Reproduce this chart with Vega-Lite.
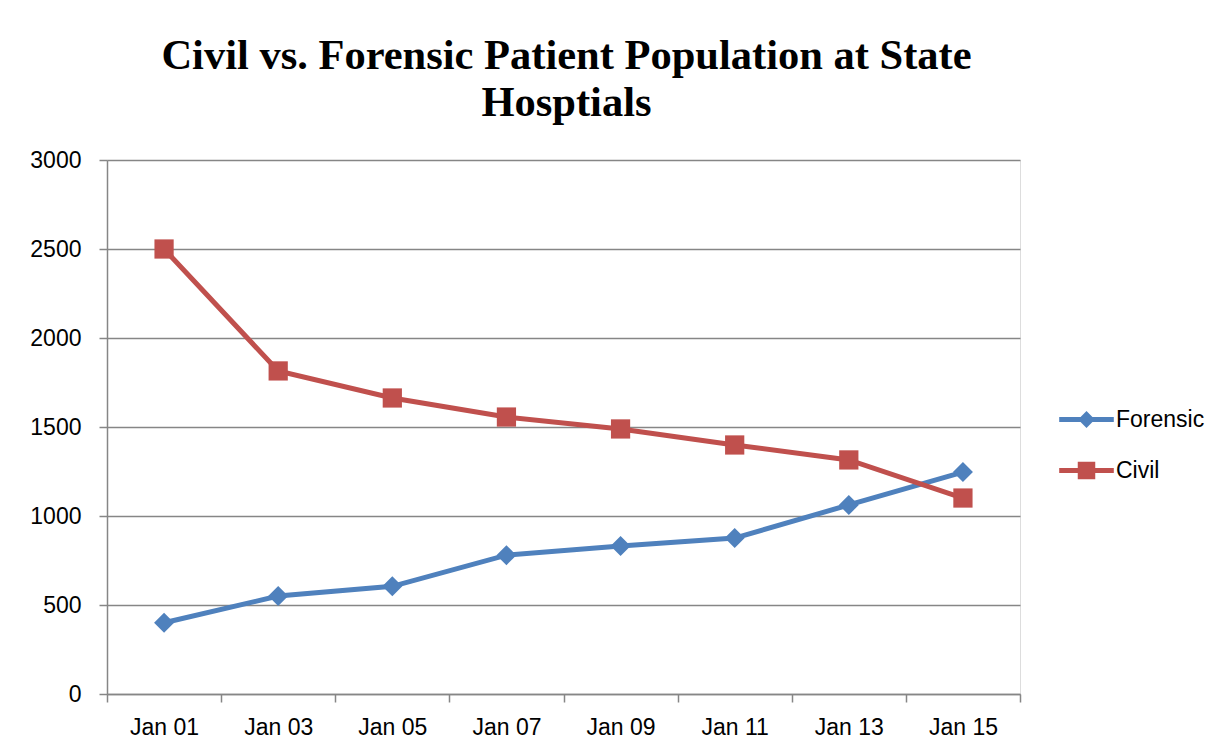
{
  "$schema": "https://vega.github.io/schema/vega-lite/v6.json",
  "autosize": "none",
  "width": 913,
  "height": 534,
  "padding": {"left": 107, "top": 160, "right": 202, "bottom": 61},
  "background": "white",
  "title": {
    "text": ["Civil vs. Forensic Patient Population at State", "Hosptials"],
    "font": "Liberation Serif",
    "fontSize": 42.5,
    "fontWeight": "bold",
    "color": "black",
    "lineHeight": 47,
    "anchor": "middle",
    "frame": "group",
    "offset": 25,
    "dx": 3
  },
  "data": {
    "values": [
      {"date": "Jan 01", "series": "Forensic", "value": 400},
      {"date": "Jan 03", "series": "Forensic", "value": 550},
      {"date": "Jan 05", "series": "Forensic", "value": 605},
      {"date": "Jan 07", "series": "Forensic", "value": 780},
      {"date": "Jan 09", "series": "Forensic", "value": 831},
      {"date": "Jan 11", "series": "Forensic", "value": 876},
      {"date": "Jan 13", "series": "Forensic", "value": 1062},
      {"date": "Jan 15", "series": "Forensic", "value": 1247},
      {"date": "Jan 01", "series": "Civil", "value": 2500},
      {"date": "Jan 03", "series": "Civil", "value": 1815},
      {"date": "Jan 05", "series": "Civil", "value": 1663},
      {"date": "Jan 07", "series": "Civil", "value": 1556},
      {"date": "Jan 09", "series": "Civil", "value": 1489},
      {"date": "Jan 11", "series": "Civil", "value": 1399},
      {"date": "Jan 13", "series": "Civil", "value": 1315},
      {"date": "Jan 15", "series": "Civil", "value": 1101}
    ]
  },
  "encoding": {
    "x": {
      "field": "date",
      "type": "nominal",
      "sort": null,
      "scale": {"type": "band", "paddingInner": 0, "paddingOuter": 0},
      "axis": {
        "title": null,
        "labelAngle": 0,
        "tickBand": "extent",
        "labelFont": "Liberation Sans",
        "labelFontSize": 23,
        "labelColor": "black",
        "labelPadding": 14,
        "tickSize": 8,
        "tickColor": "#868686",
        "tickWidth": 1.5,
        "domainColor": "#868686",
        "domainWidth": 1.5,
        "grid": false
      }
    },
    "y": {
      "field": "value",
      "type": "quantitative",
      "scale": {"domain": [0, 3000], "nice": false},
      "axis": {
        "title": null,
        "format": "d",
        "values": [0, 500, 1000, 1500, 2000, 2500, 3000],
        "labelFont": "Liberation Sans",
        "labelFontSize": 23,
        "labelColor": "black",
        "labelPadding": 18,
        "tickSize": 8,
        "tickColor": "#868686",
        "tickWidth": 1.5,
        "domainColor": "#868686",
        "domainWidth": 1.5,
        "grid": true,
        "gridColor": "#868686",
        "gridWidth": 1.5
      }
    },
    "color": {
      "field": "series",
      "type": "nominal",
      "sort": null,
      "scale": {"domain": ["Forensic", "Civil"], "range": ["#4F81BD", "#C0504D"]},
      "legend": {
        "title": null,
        "orient": "none",
        "legendX": 968,
        "legendY": 248,
        "padding": 0,
        "symbolSize": 196,
        "symbolStrokeWidth": 0,
        "labelOffset": 18,
        "rowPadding": 27,
        "labelFont": "Liberation Sans",
        "labelFontSize": 23,
        "labelColor": "black"
      }
    }
  },
  "layer": [
    {
      "mark": {"type": "line", "strokeWidth": 5}
    },
    {
      "transform": [{"filter": "datum.series === 'Forensic'"}],
      "mark": {"type": "point", "filled": true, "opacity": 1, "shape": "diamond", "size": 400}
    },
    {
      "transform": [{"filter": "datum.series === 'Civil'"}],
      "mark": {"type": "point", "filled": true, "opacity": 1, "shape": "square", "size": 370}
    },
    {
      "transform": [{"filter": "datum.value < 0"}],
      "mark": {"type": "point", "filled": true, "opacity": 1},
      "encoding": {
        "shape": {
          "field": "series",
          "type": "nominal",
          "sort": null,
          "scale": {
            "domain": ["Forensic", "Civil"],
            "range": [
              "M-3.9,-0.36L3.9,-0.36L3.9,0.36L-3.9,0.36Z M0,-1.2L1.2,0L0,1.2L-1.2,0Z",
              "M-3.9,-0.36L3.9,-0.36L3.9,0.36L-3.9,0.36Z M-1.25,-1.25L1.25,-1.25L1.25,1.25L-1.25,1.25Z"
            ]
          },
          "legend": {
            "title": null,
            "orient": "none",
            "legendX": 968,
            "legendY": 248,
            "padding": 0,
            "symbolSize": 196,
            "symbolStrokeWidth": 0,
            "labelOffset": 18,
            "rowPadding": 27,
            "labelFont": "Liberation Sans",
            "labelFontSize": 23,
            "labelColor": "black"
          }
        }
      }
    }
  ]
}
